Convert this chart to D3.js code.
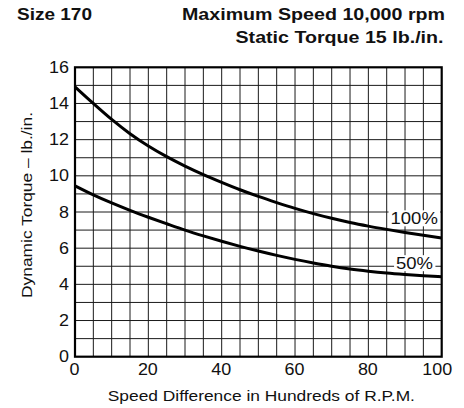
<!DOCTYPE html>
<html><head><meta charset="utf-8">
<script src="https://cdn.jsdelivr.net/npm/d3@7"></script>
<style>
html,body{margin:0;padding:0;background:#fff;}
svg{display:block;font-family:"Liberation Sans",Arial,Helvetica,sans-serif;}
</style></head>
<body><svg id="c" width="464" height="408"></svg>
<script>
const speed = [0,5,10,15,20,25,30,35,40,45,50,55,60,65,70,75,80,85,90,95,100];
const torque100 = [14.92,14.0,13.12,12.33,11.65,11.06,10.54,10.07,9.64,9.23,8.86,8.52,8.2,7.91,7.65,7.42,7.22,7.04,6.87,6.71,6.56];
const torque50 = [9.45,8.95,8.5,8.09,7.71,7.35,7.0,6.68,6.38,6.1,5.84,5.6,5.38,5.18,5.0,4.85,4.73,4.63,4.55,4.48,4.42];
const seriesLabels = ["100%","50%"];
const labelX = [92.5, 92.6];
const labelY = [7.65, 5.17];
const xTicks = [0,20,40,60,80,100];
const yTicks = [0,2,4,6,8,10,12,14,16];
const xGrid = d3.range(5,100,5);
const yGrid = d3.range(1,16,1);
const titleLeft = "Size 170";
const titleRight1 = "Maximum Speed 10,000 rpm";
const titleRight2 = "Static Torque 15 lb./in.";
const xTitle = "Speed Difference in Hundreds of R.P.M.";
const yTitle = "Dynamic Torque \u2013 lb./in.";

const svg = d3.select("#c");
const L = 75, R = 441.7, T = 67.3, B = 356.7;
const x = d3.scaleLinear().domain([0,100]).range([L,R]);
const y = d3.scaleLinear().domain([0,16]).range([B,T]);
const STRETCH = 1.12;
function stretch(sel){
  sel.each(function(){
    const w = this.getComputedTextLength();
    d3.select(this).attr("textLength", w*STRETCH).attr("lengthAdjust","spacingAndGlyphs");
  });
}

// grid
svg.append("g").selectAll("line").data(xGrid).join("line")
  .attr("x1",d=>x(d)).attr("x2",d=>x(d)).attr("y1",T).attr("y2",B)
  .attr("stroke","#1a1a1a").attr("stroke-width",1);
svg.append("g").selectAll("line").data(yGrid).join("line")
  .attr("x1",L).attr("x2",R).attr("y1",d=>y(d)).attr("y2",d=>y(d))
  .attr("stroke","#1a1a1a").attr("stroke-width",1);

// curves
const line = d3.line().x((d,i)=>x(speed[i])).y(d=>y(d)).curve(d3.curveMonotoneX);
[torque100, torque50].forEach(s=>{
  svg.append("path").attr("d",line(s)).attr("fill","none")
    .attr("stroke","#000").attr("stroke-width",3);
});

// series labels with white boxes
seriesLabels.forEach((t,i)=>{
  const g = svg.append("g");
  const r = g.append("rect").attr("fill","#fff");
  const tx = g.append("text").attr("x",x(labelX[i])).attr("y",y(labelY[i]))
    .attr("text-anchor","middle").attr("dominant-baseline","central")
    .attr("font-size",16.5).attr("fill","#111").text(t);
  stretch(tx);
  const bb = tx.node().getBBox();
  r.attr("x",bb.x-2).attr("y",bb.y+1).attr("width",bb.width+4).attr("height",bb.height-2);
});

// frame
svg.append("rect").attr("x",L).attr("y",T).attr("width",R-L).attr("height",B-T)
  .attr("fill","none").attr("stroke","#000").attr("stroke-width",2.2);

// axes
const ax = svg.append("g").attr("transform",`translate(0,${B})`)
  .call(d3.axisBottom(x).tickValues(xTicks).tickSize(0).tickPadding(7));
const ay = svg.append("g").attr("transform",`translate(${L},0)`)
  .call(d3.axisLeft(y).tickValues(yTicks).tickSize(0).tickPadding(6));
[ax,ay].forEach(a=>{
  a.select(".domain").remove();
  a.selectAll("text").attr("font-size",16).attr("fill","#111")
    .attr("font-family",'"Liberation Sans",Arial,sans-serif');
  stretch(a.selectAll("text"));
});
ax.selectAll(".tick text").attr("dx",d=>d===100?-5:-1);

// axis titles
const xt = svg.append("text").attr("x",(L+R)/2+3).attr("y",401)
  .attr("text-anchor","middle").attr("font-size",15.5).attr("fill","#111").text(xTitle);
stretch(xt);
const yt = svg.append("g").attr("transform",`translate(31.5,${(T+B)/2-7}) rotate(-90)`)
  .append("text").attr("text-anchor","middle").attr("font-size",15.5).attr("fill","#111").text(yTitle);
stretch(yt);

// titles
svg.append("text").attr("x",17).attr("y",19.5).attr("font-size",16.5).attr("font-weight","bold")
  .attr("fill","#111").attr("textLength",75).attr("lengthAdjust","spacingAndGlyphs").text(titleLeft);
svg.append("text").attr("x",445).attr("y",19.5).attr("text-anchor","end").attr("font-size",16.5).attr("font-weight","bold")
  .attr("fill","#111").attr("textLength",263).attr("lengthAdjust","spacingAndGlyphs").text(titleRight1);
svg.append("text").attr("x",443.5).attr("y",42.7).attr("text-anchor","end").attr("font-size",16.5).attr("font-weight","bold")
  .attr("fill","#111").attr("textLength",208).attr("lengthAdjust","spacingAndGlyphs").text(titleRight2);
</script></body></html>
